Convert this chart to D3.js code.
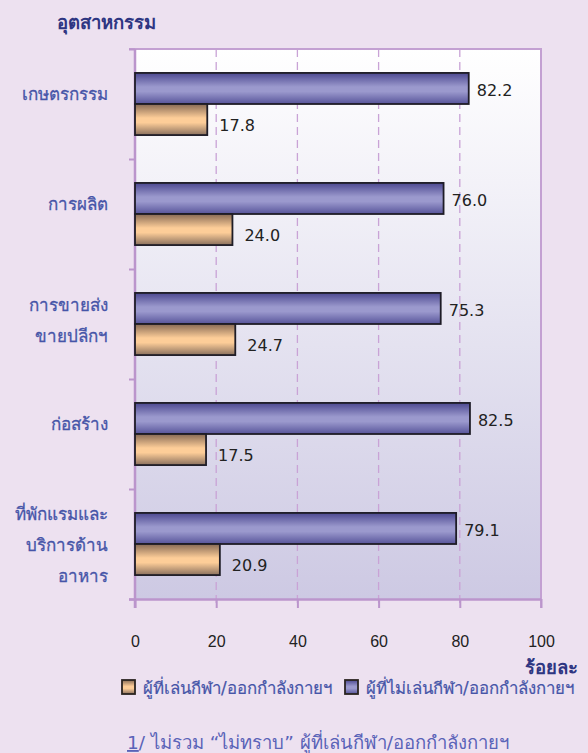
<!DOCTYPE html>
<html>
<head>
<meta charset="utf-8">
<script src="https://cdn.jsdelivr.net/npm/d3@7"></script>
<style>
  html, body { margin: 0; padding: 0; background: #ede1f0; }
  svg { display: block; font-family: "DejaVu Sans", "Noto Sans", sans-serif; }
</style>
</head>
<body>
<svg id="chart"></svg>
<script>
// industry groups (label lines)
const categories = [
  ["เกษตรกรรม"],
  ["การผลิต"],
  ["การขายส่ง", "ขายปลีกฯ"],
  ["ก่อสร้าง"],
  ["ที่พักแรมและ", "บริการด้าน", "อาหาร"]
]
const notPlaying = [82.2, 76.0, 75.3, 82.5, 79.1]
const playing = [17.8, 24.0, 24.7, 17.5, 20.9]
const seriesNames = ["ผู้ที่เล่นกีฬา/ออกกำลังกายฯ", "ผู้ที่ไม่เล่นกีฬา/ออกกำลังกายฯ"]
const xTicks = [0, 20, 40, 60, 80, 100]

const width = 588, height = 753
const margin = {top: 49, left: 135, right: 47, bottom: 154}
const plotW = width - margin.left - margin.right
const plotH = height - margin.top - margin.bottom

const svg = d3.select("#chart")
  .attr("width", width)
  .attr("height", height)

const defs = svg.append("defs")

const plotGrad = defs.append("linearGradient")
  .attr("id", "plotBg").attr("x1", 0).attr("y1", 0).attr("x2", 0).attr("y2", 1)
plotGrad.append("stop").attr("offset", "0%").attr("stop-color", "#ffffff")
plotGrad.append("stop").attr("offset", "100%").attr("stop-color", "#cdc9e3")

function barGradient(id, edgeTop, mid, edgeBottom) {
  const g = defs.append("linearGradient")
    .attr("id", id).attr("x1", 0).attr("y1", 0).attr("x2", 0).attr("y2", 1)
  g.append("stop").attr("offset", "0%").attr("stop-color", edgeTop)
  g.append("stop").attr("offset", "45%").attr("stop-color", mid)
  g.append("stop").attr("offset", "60%").attr("stop-color", mid)
  g.append("stop").attr("offset", "100%").attr("stop-color", edgeBottom)
}
barGradient("blueBar", "#4c4890", "#9b99cd", "#57549a")
barGradient("orangeBar", "#876a55", "#fdcd98", "#8a705e")

const x = d3.scaleLinear().domain([0, 100]).range([0, plotW])
const y = d3.scaleBand().domain(d3.range(categories.length)).range([0, plotH])
const ySeries = d3.scaleBand().domain(["not", "play"]).range([0, y.bandwidth()])
  .paddingInner(0).paddingOuter(0.77)

const g = svg.append("g").attr("transform", `translate(${margin.left},${margin.top})`)

// plot background
g.append("rect")
  .attr("width", plotW).attr("height", plotH)
  .attr("fill", "url(#plotBg)")

// dashed grid
g.append("g").selectAll("line")
  .data(xTicks.filter(d => d > 0 && d < 100))
  .join("line")
  .attr("x1", d => x(d)).attr("x2", d => x(d))
  .attr("y1", 0).attr("y2", plotH + 9)
  .attr("stroke", "#c9a3d6")
  .attr("stroke-width", 1.3)
  .attr("stroke-dasharray", "8,5")

// plot frame top/right
g.append("path")
  .attr("d", `M${-6},0H${plotW}V${plotH + 9}`)
  .attr("fill", "none")
  .attr("stroke", "#c3a0d2")
  .attr("stroke-width", 2)

// axes
const axisColor = "#bb95cc"
const xAxis = g.append("g")
  .attr("transform", `translate(0,${plotH})`)
  .call(d3.axisBottom(x).tickValues(xTicks).tickSize(9).tickPadding(28).tickSizeOuter(0))
xAxis.select(".domain").attr("stroke", axisColor).attr("stroke-width", 2.5)
  .attr("d", `M-6,0.5H${plotW}`)
xAxis.selectAll(".tick line").attr("stroke", axisColor).attr("stroke-width", 2)
xAxis.selectAll(".tick text")
  .attr("fill", "#222")
  .attr("font-size", 16)

const yAxis = g.append("g")
  .call(d3.axisLeft(d3.scaleLinear().domain([0, categories.length]).range([0, plotH]))
    .ticks(categories.length).tickSize(6).tickFormat(""))
yAxis.select(".domain").attr("stroke", axisColor).attr("stroke-width", 2.5)
  .attr("d", `M0,0V${plotH + 9}`)
yAxis.selectAll(".tick line").attr("stroke", axisColor).attr("stroke-width", 2)

// category labels
const labelOffset = [-10, -4, 1]
const catG = g.append("g")
categories.forEach((lines, i) => {
  const cy = y(i) + y.bandwidth() / 2 + labelOffset[lines.length - 1]
  lines.forEach((line, j) => {
    catG.append("text")
      .attr("x", -27)
      .attr("y", cy + (j - (lines.length - 1) / 2) * 31 + 6)
      .attr("text-anchor", "end")
      .attr("font-size", 17)
      .attr("fill", "#4655a8")
      .attr("stroke", "#4655a8").attr("stroke-width", 0.3)
      .text(line)
  })
})

// bars
const rows = categories.map((c, i) => ({i, not: notPlaying[i], play: playing[i]}))
const bars = g.append("g").selectAll("g")
  .data(rows).join("g")
  .attr("transform", d => `translate(0,${y(d.i)})`)

bars.append("rect")
  .attr("x", 0)
  .attr("y", ySeries("not"))
  .attr("width", d => x(d.not))
  .attr("height", ySeries.bandwidth())
  .attr("fill", "url(#blueBar)")
  .attr("stroke", "#1e1c26").attr("stroke-width", 1.8)

bars.append("rect")
  .attr("x", 0)
  .attr("y", ySeries("play"))
  .attr("width", d => x(d.play))
  .attr("height", ySeries.bandwidth())
  .attr("fill", "url(#orangeBar)")
  .attr("stroke", "#1e1c26").attr("stroke-width", 1.8)

bars.append("text")
  .attr("x", d => x(d.not) + 8)
  .attr("y", ySeries("not") + ySeries.bandwidth() / 2 + 8)
  .attr("font-size", 16)
  .attr("fill", "#222")
  .text(d => d.not.toFixed(1))

bars.append("text")
  .attr("x", d => x(d.play) + 12)
  .attr("y", ySeries("play") + ySeries.bandwidth() / 2 + 11)
  .attr("font-size", 16)
  .attr("fill", "#222")
  .text(d => d.play.toFixed(1))

// titles
svg.append("text")
  .attr("x", 57).attr("y", 29)
  .attr("font-size", 18.5).attr("font-weight", "bold")
  .attr("fill", "#2e3682")
  .text("อุตสาหกรรม")

svg.append("text")
  .attr("x", 578).attr("y", 674)
  .attr("text-anchor", "end")
  .attr("font-size", 18.5).attr("font-weight", "bold")
  .attr("fill", "#2e3682")
  .text("ร้อยละ")

// legend
const legendItems = [
  {name: seriesNames[0], fill: "url(#orangeBar)", x: 122},
  {name: seriesNames[1], fill: "url(#blueBar)", x: 345}
]
const leg = svg.append("g").selectAll("g")
  .data(legendItems).join("g")
  .attr("transform", d => `translate(${d.x},680)`)
leg.append("rect")
  .attr("width", 13).attr("height", 14)
  .attr("fill", d => d.fill)
  .attr("stroke", "#2a2420").attr("stroke-width", 1.8)
leg.append("text")
  .attr("x", 21).attr("y", 14)
  .attr("font-size", 16.8)
  .attr("fill", "#4655a8")
  .attr("stroke", "#4655a8").attr("stroke-width", 0.2)
  .text(d => d.name)

// footnote
const note = svg.append("text")
  .attr("x", 127).attr("y", 749)
  .attr("font-size", 18.5)
  .attr("fill", "#5a63b8")
note.append("tspan").attr("text-decoration", "underline").text("1")
note.append("tspan").text("/  ไม่รวม “ไม่ทราบ” ผู้ที่เล่นกีฬา/ออกกำลังกายฯ")
</script>
</body>
</html>
